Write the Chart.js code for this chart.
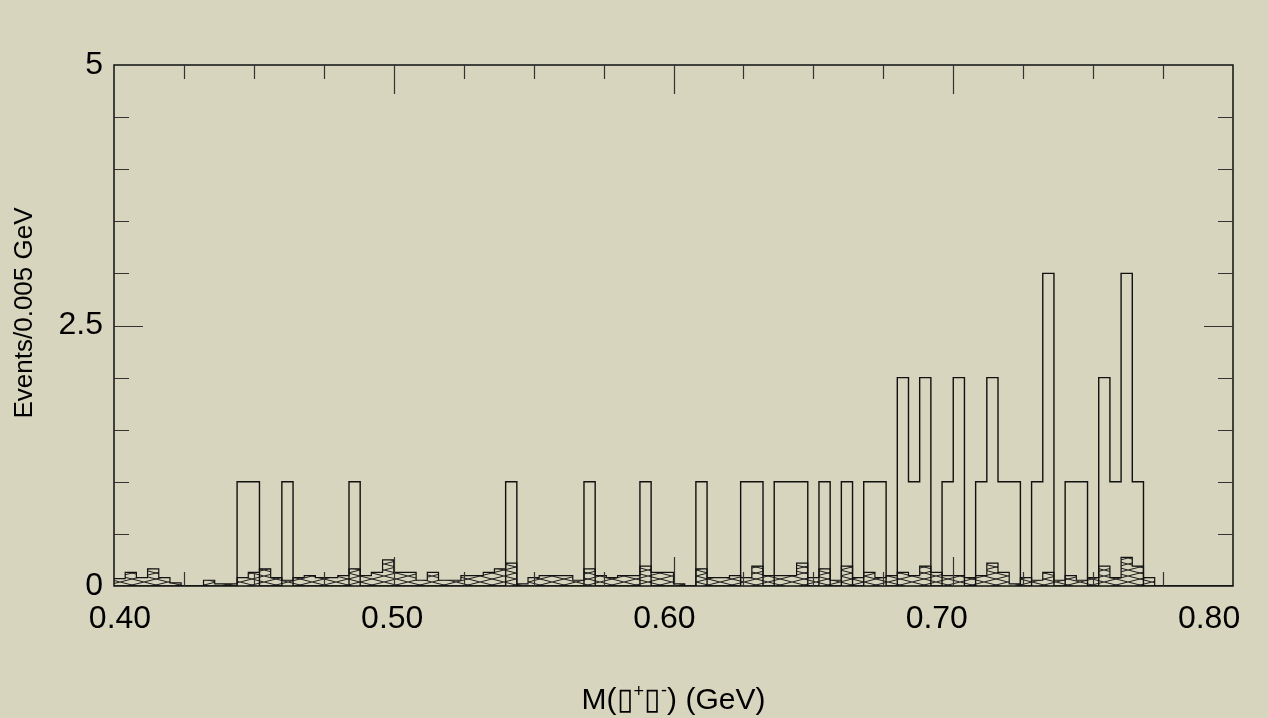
<!DOCTYPE html>
<html>
<head>
<meta charset="utf-8">
<script src="https://cdn.jsdelivr.net/npm/chart.js@4.4.1/dist/chart.umd.min.js"></script>
<style>
  html, body { margin: 0; padding: 0; background: #d7d5bd; }
  canvas { display: block; }
</style>
</head>
<body>
<canvas id="histCanvas" width="1268" height="718"></canvas>
<script>
// histogram: 100 bins of 0.004 GeV from 0.40 to 0.80
const binLow = 0.4;
const binWidth = 0.004;

// open histogram (events per bin)
const dataCounts = [
  0, 0, 0, 0, 0, 0, 0, 0, 0, 0,
  0, 1, 1, 0, 0, 1, 0, 0, 0, 0,
  0, 1, 0, 0, 0, 0, 0, 0, 0, 0,
  0, 0, 0, 0, 0, 1, 0, 0, 0, 0,
  0, 0, 1, 0, 0, 0, 0, 1, 0, 0,
  0, 0, 1, 0, 0, 0, 1, 1, 0, 1,
  1, 1, 0, 1, 0, 1, 0, 1, 1, 0,
  2, 1, 2, 0, 1, 2, 0, 1, 2, 1,
  1, 0, 1, 3, 0, 1, 1, 0, 2, 1,
  3, 1, 0, 0, 0, 0, 0, 0, 0, 0
];

// hatched histogram (background estimate)
const bgCounts = [
  0.07, 0.13, 0.08, 0.165, 0.08, 0.03, 0, 0, 0.055, 0.02,
  0.02, 0.08, 0.13, 0.165, 0.08, 0.055, 0.08, 0.1, 0.08, 0.08,
  0.1, 0.165, 0.1, 0.13, 0.25, 0.13, 0.13, 0.055, 0.13, 0.055,
  0.055, 0.1, 0.1, 0.13, 0.165, 0.22, 0.02, 0.08, 0.1, 0.1,
  0.1, 0.055, 0.165, 0.1, 0.08, 0.1, 0.1, 0.19, 0.13, 0.13,
  0.02, 0, 0.165, 0.08, 0.08, 0.1, 0.08, 0.19, 0.1, 0.1,
  0.1, 0.22, 0.08, 0.165, 0.055, 0.19, 0.08, 0.13, 0.08, 0.1,
  0.13, 0.1, 0.19, 0.13, 0.1, 0.1, 0.08, 0.1, 0.22, 0.13,
  0.02, 0.08, 0.055, 0.13, 0.055, 0.1, 0.055, 0.08, 0.19, 0.08,
  0.275, 0.19, 0.08, 0, 0, 0, 0, 0, 0, 0
];

const xTickLabels = [0.4, 0.5, 0.6, 0.7, 0.8];
const yTickLabels = [0, 2.5, 5];
const xMinorStep = 0.025;
const yMinorStep = 0.5;

// bin contents -> step points (left edges + closing edge)
function toSteps(counts) {
  const pts = counts.map((v, i) => ({ x: binLow + i * binWidth, y: v }));
  pts.push({ x: binLow + counts.length * binWidth, y: 0 });
  return pts;
}

// cross hatch like the PAW fill style
function makeHatch() {
  const c = document.createElement("canvas");
  c.width = 24;
  c.height = 6;
  const g = c.getContext("2d");
  g.strokeStyle = "#1c1c1c";
  g.lineWidth = 1;
  g.beginPath();
  g.moveTo(0, 0); g.lineTo(24, 6);
  g.moveTo(0, 6); g.lineTo(24, 0);
  g.stroke();
  return g.createPattern(c, "repeat");
}

const fontFamily = "'Liberation Sans', Arial, Helvetica, sans-serif";

// frame + inside ticks on all four sides, plus the two axis titles
const frameTicks = {
  id: "frameTicks",
  afterDatasetsDraw(chart) {
    const { ctx, chartArea: a, scales } = chart;
    const xs = scales.x, ys = scales.y;
    ctx.save();
    ctx.strokeStyle = "#111";
    ctx.lineWidth = 1.5;
    ctx.strokeRect(a.left, a.top, a.right - a.left, a.bottom - a.top);

    ctx.strokeStyle = "#333";
    ctx.lineWidth = 1.2;
    ctx.beginPath();
    for (let v = xs.min + xMinorStep; v < xs.max - 1e-9; v += xMinorStep) {
      const major = Math.abs(v * 10 - Math.round(v * 10)) < 1e-6;
      const len = major ? 29 : 14;
      const px = Math.round(xs.getPixelForValue(v)) + 0.5;
      ctx.moveTo(px, a.bottom); ctx.lineTo(px, a.bottom - len);
      ctx.moveTo(px, a.top); ctx.lineTo(px, a.top + len);
    }
    for (let v = ys.min + yMinorStep; v < ys.max - 1e-9; v += yMinorStep) {
      const major = Math.abs(v - 2.5) < 1e-6;
      const len = major ? 29 : 15;
      const py = Math.round(ys.getPixelForValue(v)) + 0.5;
      ctx.moveTo(a.left, py); ctx.lineTo(a.left + len, py);
      ctx.moveTo(a.right, py); ctx.lineTo(a.right - len, py);
    }
    ctx.stroke();
    ctx.restore();
  },
  afterDraw(chart) {
    const { ctx, chartArea: a } = chart;
    ctx.save();
    ctx.fillStyle = "#000";

    // y title, rotated
    ctx.font = "26px " + fontFamily;
    ctx.textAlign = "center";
    ctx.textBaseline = "middle";
    ctx.translate(25, 313);
    ctx.rotate(-Math.PI / 2);
    ctx.fillText("Events/0.005 GeV", 0, 0);
    ctx.setTransform(1, 0, 0, 1, 0, 0);

    // x title with superscripts, centred under the plot
    const parts = [
      { t: "M(", s: 30, dy: 0 },
      { t: "\u25AF", s: 30, dy: 0 },
      { t: "+", s: 18, dy: -12 },
      { t: "\u25AF", s: 30, dy: 0 },
      { t: "-", s: 18, dy: -13 },
      { t: ") (GeV)", s: 30, dy: 0 }
    ];
    ctx.textAlign = "left";
    ctx.textBaseline = "alphabetic";
    let total = 0;
    parts.forEach(p => {
      ctx.font = p.s + "px " + fontFamily;
      p.w = ctx.measureText(p.t).width;
      total += p.w;
    });
    let x = (a.left + a.right) / 2 - total / 2;
    const base = 709;
    parts.forEach(p => {
      ctx.font = p.s + "px " + fontFamily;
      ctx.fillText(p.t, x, base + p.dy);
      x += p.w;
    });
    ctx.restore();
  }
};

const ctx = document.getElementById("histCanvas").getContext("2d");

new Chart(ctx, {
  type: "line",
  data: {
    datasets: [
      {
        label: "data",
        data: toSteps(dataCounts),
        stepped: true,
        borderColor: "#111",
        borderWidth: 1.4,
        fill: false,
        pointRadius: 0
      },
      {
        label: "background",
        data: toSteps(bgCounts),
        stepped: true,
        borderColor: "#111",
        borderWidth: 1.2,
        backgroundColor: makeHatch(),
        fill: "origin",
        pointRadius: 0
      }
    ]
  },
  options: {
    responsive: false,
    animation: false,
    events: [],
    layout: { padding: { left: 0, top: 65, right: 35, bottom: 0 } },
    plugins: {
      legend: { display: false },
      tooltip: { enabled: false }
    },
    scales: {
      x: {
        type: "linear",
        min: 0.4,
        max: 0.8,
        display: false
      },
      // label axis: the printed numbers sit a little off the real bins
      xl: {
        type: "linear",
        position: "bottom",
        min: 0.3978,
        max: 0.8088,
        afterBuildTicks: s => { s.ticks = xTickLabels.map(v => ({ value: v })); },
        afterFit: s => { s.height = 132; },
        grid: { display: false, drawTicks: false },
        border: { display: false },
        ticks: {
          autoSkip: false,
          maxRotation: 0,
          padding: 14,
          color: "#000",
          font: { size: 32, family: fontFamily },
          callback: v => v.toFixed(2)
        }
      },
      y: {
        type: "linear",
        min: 0,
        max: 5,
        afterBuildTicks: s => { s.ticks = yTickLabels.map(v => ({ value: v })); },
        afterFit: s => { s.width = 114; },
        grid: { display: false, drawTicks: false },
        border: { display: false },
        ticks: {
          padding: 11,
          color: "#000",
          font: { size: 32, family: fontFamily },
          callback: v => String(v)
        }
      }
    }
  },
  plugins: [frameTicks]
});
</script>
</body>
</html>
